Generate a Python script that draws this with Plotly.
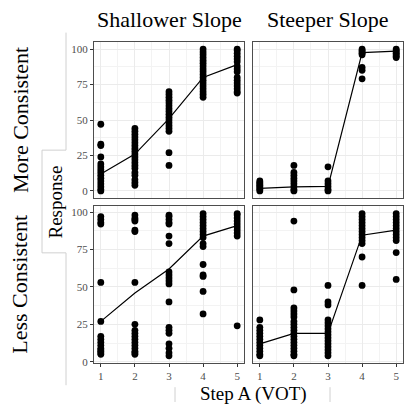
import plotly.graph_objects as go

# ---------------- data ----------------
steps = [1, 2, 3, 4, 5]
col_labels = ["Shallower Slope", "Steeper Slope"]
row_labels = ["More Consistent", "Less Consistent"]
y_ticks = [0, 25, 50, 75, 100]
x_title = "Step A (VOT)"
y_title = "Response"

# Shallower slope, more consistent
tl_s1 = [47, 33, 32, 24, 19, 17, 15, 13, 11, 9, 7, 5, 3, 1, 0]
tl_s2 = [44, 42, 40, 38, 36, 34, 32, 30, 28, 26, 24, 22, 20, 18, 16, 13, 11, 8, 6, 4]
tl_s3 = [70, 68, 66, 64, 62, 60, 58, 56, 54, 52, 50, 48, 46, 44, 42, 27, 18]
tl_s4 = [100, 98, 96, 94, 92, 90, 88, 86, 84, 82, 80, 78, 76, 74, 72, 70, 68, 66]
tl_s5 = [100, 99, 97, 95, 93, 91, 88, 86, 84, 80, 78, 76, 74, 72, 70, 69]
tl_mean = [12, 26, 51, 80, 89]

# Steeper slope, more consistent
tr_s1 = [7, 6, 5, 4, 3, 2, 1, 0]
tr_s2 = [18, 13, 11, 9, 7, 5, 3, 1, 0]
tr_s3 = [17, 7, 5, 3, 1, 0]
tr_s4 = [100, 99, 98, 97, 96, 87, 85, 79]
tr_s5 = [100, 99, 98, 97, 96, 95, 94]
tr_mean = [1.8, 2.8, 3.2, 97.5, 98.6]

# Shallower slope, less consistent
bl_s1 = [97, 95, 93, 92, 53, 27, 17, 15, 13, 11, 9, 8, 7, 6, 5]
bl_s2 = [98, 96, 95, 94, 88, 87, 53, 25, 21, 19, 17, 15, 13, 11, 9, 7, 6, 5]
bl_s3 = [98, 97, 95, 93, 92, 84, 79, 60, 58, 56, 54, 52, 40, 23, 21, 19, 12, 9, 6, 4]
bl_s4 = [99, 97, 95, 93, 91, 89, 87, 85, 83, 79, 77, 65, 58, 57, 47, 32]
bl_s5 = [99, 98, 96, 94, 92, 90, 88, 86, 84, 24]
bl_mean = [27, 46, 62, 84, 91]

# Steeper slope, less consistent
br_s1 = [28, 23, 21, 19, 17, 15, 13, 11, 9, 7, 5, 4]
br_s2 = [94, 48, 36, 34, 32, 30, 27, 25, 23, 21, 19, 17, 15, 13, 11, 9, 7, 5, 4]
br_s3 = [51, 40, 38, 28, 26, 24, 22, 20, 18, 16, 14, 12, 10, 8, 6, 4]
br_s4 = [99, 97, 95, 93, 91, 89, 87, 85, 83, 81, 79, 70, 51]
br_s5 = [99, 97, 95, 93, 91, 89, 87, 85, 83, 81, 73, 55]
br_mean = [12, 19, 19, 84.6, 88]

panels = [
    ([tl_s1, tl_s2, tl_s3, tl_s4, tl_s5], tl_mean, 0, 0),
    ([tr_s1, tr_s2, tr_s3, tr_s4, tr_s5], tr_mean, 0, 1),
    ([bl_s1, bl_s2, bl_s3, bl_s4, bl_s5], bl_mean, 1, 0),
    ([br_s1, br_s2, br_s3, br_s4, br_s5], br_mean, 1, 1),
]

# ---------------- layout helpers ----------------
W, H = 404, 407
def px(x):
    return x / W
def py(y):
    return 1 - y / H

col_dom = [[px(94), px(244)], [px(253), px(403)]]
row_dom = [[py(200.5), py(42.5)], [py(367.5), py(209)]]
row_range = [[-5, 105], [-0.8, 103.8]]

FONT = "Liberation Serif, Times New Roman, serif"
fig = go.Figure()
layout = dict(
    width=W, height=H,
    margin=dict(l=0, r=0, t=0, b=0),
    paper_bgcolor="white", plot_bgcolor="white",
    showlegend=False,
    font=dict(family=FONT, color="black"),
)

for k, (cols, mean, r, c) in enumerate(panels):
    idx = k + 1
    xa = "x" if idx == 1 else f"x{idx}"
    ya = "y" if idx == 1 else f"y{idx}"
    xs, ys = [], []
    for s, vals in zip(steps, cols):
        xs += [s] * len(vals)
        ys += vals
    fig.add_trace(go.Scatter(x=xs, y=ys, mode="markers", xaxis=xa, yaxis=ya,
                             marker=dict(color="black", size=6.8), hoverinfo="skip"))
    fig.add_trace(go.Scatter(x=steps, y=mean, mode="lines", xaxis=xa, yaxis=ya,
                             line=dict(color="black", width=1.2), hoverinfo="skip"))
    xkey = "xaxis" if idx == 1 else f"xaxis{idx}"
    ykey = "yaxis" if idx == 1 else f"yaxis{idx}"
    show_x = (r == 1)
    show_y = (c == 0)
    layout[xkey] = dict(
        domain=col_dom[c], anchor=ya, range=[0.8, 5.2],
        tickmode="array", tickvals=steps, ticktext=[str(s) for s in steps],
        showticklabels=show_x, ticks="outside" if show_x else "",
        ticklen=3, tickwidth=1, tickcolor="#333333",
        tickfont=dict(family=FONT, size=11, color="#4D4D4D"),
        showgrid=True, gridcolor="#EBEBEB", gridwidth=1.1,
        minor=dict(tickvals=[1.5, 2.5, 3.5, 4.5], showgrid=True,
                   gridcolor="#F3F3F3", gridwidth=0.6, ticks=""),
        showline=True, linecolor="#4D4D4D", linewidth=1, mirror=True,
        zeroline=False, fixedrange=True,
    )
    layout[ykey] = dict(
        domain=row_dom[r], anchor=xa, range=row_range[r],
        tickmode="array", tickvals=y_ticks, ticktext=[str(v) for v in y_ticks],
        showticklabels=show_y, ticks="outside" if show_y else "",
        ticklen=3, tickwidth=1, tickcolor="#333333",
        tickfont=dict(family=FONT, size=11, color="#4D4D4D"),
        showgrid=True, gridcolor="#EBEBEB", gridwidth=1.1,
        minor=dict(tickvals=[12.5, 37.5, 62.5, 87.5], showgrid=True,
                   gridcolor="#F3F3F3", gridwidth=0.6, ticks=""),
        showline=True, linecolor="#4D4D4D", linewidth=1, mirror=True,
        zeroline=False, fixedrange=True,
    )

ann = []
for c, lab in enumerate(col_labels):
    ann.append(dict(text=lab, x=(col_dom[c][0] + col_dom[c][1]) / 2, y=py(20),
                    xref="paper", yref="paper", showarrow=False,
                    xanchor="center", yanchor="middle",
                    font=dict(family=FONT, size=22, color="black")))
for r, lab in enumerate(row_labels):
    ann.append(dict(text=lab, x=px(20), y=(row_dom[r][0] + row_dom[r][1]) / 2,
                    xref="paper", yref="paper", showarrow=False, textangle=-90,
                    xanchor="center", yanchor="middle",
                    font=dict(family=FONT, size=22, color="black")))
ann.append(dict(text=y_title, x=px(55), y=py(205), xref="paper", yref="paper",
                showarrow=False, textangle=-90, xanchor="center", yanchor="middle",
                font=dict(family=FONT, size=19, color="black")))
ann.append(dict(text=x_title, x=px(253), y=py(399), xref="paper", yref="paper",
                showarrow=False, xanchor="center", yanchor="middle",
                font=dict(family=FONT, size=19, color="black")))
layout["annotations"] = ann

# faint outline around axis-title area
outline = "#D0D0D0"
segs = [
    (66, 33, 66, 152), (42, 152, 66, 152), (42, 152, 42, 256),
    (42, 256, 66, 256), (66, 256, 66, 390),
    (175, 392, 175, 407), (330, 392, 330, 407),
]
layout["shapes"] = [dict(type="line", xref="paper", yref="paper",
                         x0=px(a), y0=py(b), x1=px(cc), y1=py(d),
                         line=dict(color=outline, width=1), layer="below")
                    for a, b, cc, d in segs]

fig.update_layout(**layout)
fig.write_html(
    "out.html",
    config={"displayModeBar": False},
    post_script="document.body.style.margin='0';document.body.style.overflow='hidden';",
)
